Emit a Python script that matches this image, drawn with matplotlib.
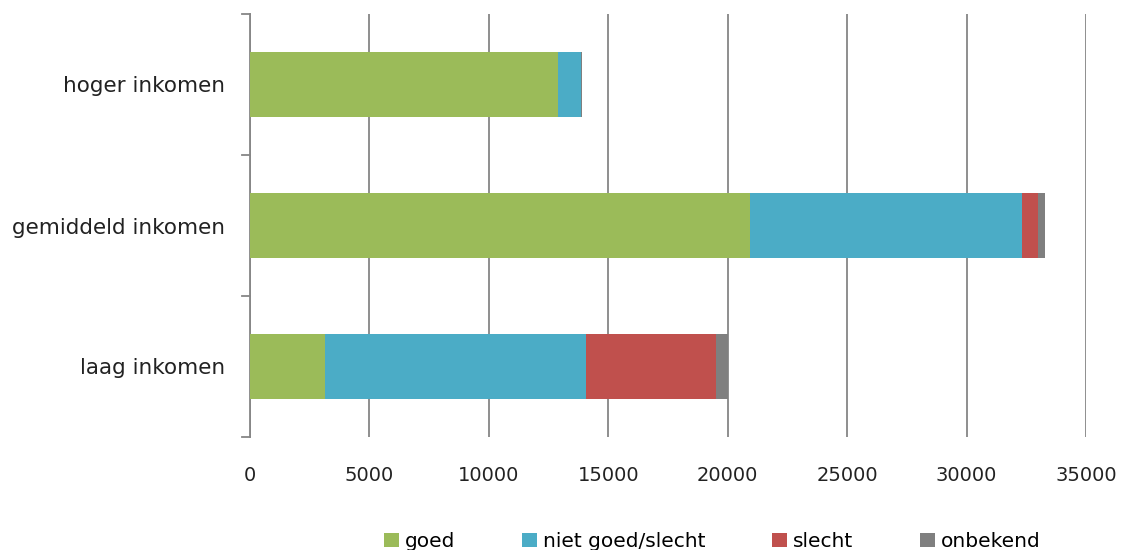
import matplotlib
matplotlib.use("Agg")
import matplotlib.pyplot as plt
import numpy as np

# --- data ---
categories = ['laag inkomen', 'gemiddeld inkomen', 'hoger inkomen']
goed = [3130, 20950, 12880]
niet_goed = [10920, 11350, 990]
slecht = [5480, 670, 0]
onbekend = [500, 320, 30]
series_names = ['goed', 'niet goed/slecht', 'slecht', 'onbekend']
colors = ['#9BBB59', '#4BACC6', '#C0504D', '#7F7F7F']
xticks = [0, 5000, 10000, 15000, 20000, 25000, 30000, 35000]

plt.rcParams['font.family'] = ['DejaVu Sans']

fig = plt.figure(figsize=(11.25, 5.5), dpi=100)
ax = fig.add_axes([250 / 1125, 1 - 437 / 550, (1086 - 250) / 1125, (437 - 14) / 550])

y = np.arange(len(categories))
left = np.zeros(len(categories))
for name, vals, col in zip(series_names, [goed, niet_goed, slecht, onbekend], colors):
    ax.barh(y, vals, left=left, height=0.46, color=col, label=name, zorder=3)
    left += np.array(vals)

ax.set_xlim(0, 35000)
ax.set_ylim(-0.5, 2.5)
ax.set_xticks(xticks)
ax.set_xticklabels([str(t) for t in xticks], fontsize=14, color='#222222')
ax.tick_params(axis='x', length=0, pad=21)

# category labels centered on bars; tick marks between categories
ax.set_yticks(y)
ax.set_yticklabels(categories, fontsize=15.5, color='#222222')
ax.tick_params(axis='y', length=0, pad=18)
for b in [-0.5, 0.5, 1.5, 2.5]:
    ax.plot([-0.009, 0], [b, b], transform=ax.get_yaxis_transform(),
            color='#868686', lw=1.3, clip_on=False)

ax.grid(axis='x', color='#868686', lw=1.3, zorder=0)
for s in ['top', 'right', 'bottom']:
    ax.spines[s].set_visible(False)
ax.spines['left'].set_color('#868686')
ax.spines['left'].set_linewidth(1.3)

fig.legend(loc='lower center', bbox_to_anchor=(0.633, -0.035), ncol=4, frameon=False,
           fontsize=14.5, handlelength=0.75, handleheight=0.75, handletextpad=0.3,
           columnspacing=3.3)

fig.savefig('out.png', dpi=100)
